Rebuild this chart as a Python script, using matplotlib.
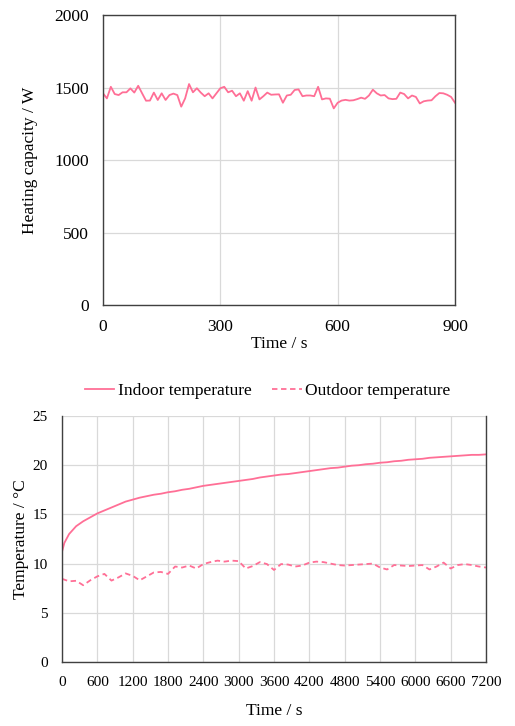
import matplotlib
matplotlib.use('Agg')
import matplotlib.pyplot as plt
import numpy as np

# Heating capacity, sampled every 10 s
heat_time = list(range(0, 901, 10))
heat_w = [1460, 1425, 1505, 1455, 1448, 1467, 1467, 1494, 1465, 1512,
          1460, 1409, 1410, 1465, 1414, 1460, 1414, 1448, 1458, 1448,
          1368, 1425, 1524, 1467, 1495, 1465, 1440, 1460, 1425, 1460,
          1495, 1505, 1467, 1478, 1440, 1460, 1409, 1475, 1409, 1500,
          1418, 1440, 1465, 1450, 1452, 1453, 1395, 1445, 1450, 1483,
          1487, 1440, 1445, 1445, 1440, 1505, 1418, 1425, 1423, 1356,
          1395, 1410, 1415, 1410, 1412, 1420, 1430, 1422, 1445, 1485,
          1460, 1445, 1448, 1425, 1420, 1422, 1465, 1455, 1425, 1445,
          1435, 1390, 1405, 1410, 1412, 1440, 1462, 1460, 1450, 1435, 1395]

# Indoor temperature
indoor_time = [0, 40] + list(range(120, 7201, 120))
indoor_c = [11.2, 12.1, 13.0, 13.8, 14.3, 14.7, 15.1, 15.4, 15.7, 16.0, 16.3,
            16.5, 16.7, 16.85, 17.0, 17.1, 17.25, 17.35, 17.5, 17.6, 17.75,
            17.9, 18.0, 18.1, 18.2, 18.3, 18.4, 18.5, 18.6, 18.75, 18.85,
            18.95, 19.05, 19.1, 19.2, 19.3, 19.4, 19.5, 19.6, 19.7, 19.75,
            19.85, 19.95, 20.0, 20.1, 20.15, 20.25, 20.3, 20.4, 20.45, 20.55,
            20.6, 20.65, 20.75, 20.8, 20.85, 20.9, 20.95, 21.0, 21.05, 21.05, 21.1]

# Outdoor temperature
outdoor_time = list(range(0, 7201, 120))
outdoor_c = [8.45, 8.2, 8.25, 7.8, 8.3, 8.7, 8.95, 8.27, 8.6, 9.0,
             8.75, 8.3, 8.7, 9.1, 9.15, 8.95, 9.7, 9.6, 9.8, 9.5,
             9.95, 10.15, 10.3, 10.2, 10.3, 10.25, 9.5, 9.75, 10.15, 9.95,
             9.35, 9.95, 9.9, 9.7, 9.8, 10.1, 10.2, 10.15, 10.0, 9.85,
             9.8, 9.85, 9.9, 9.95, 10.0, 9.6, 9.4, 9.85, 9.8, 9.75,
             9.8, 9.85, 9.4, 9.7, 10.1, 9.5, 9.85, 9.95, 9.85, 9.7, 9.6]

top_xticks = [0, 300, 600, 900]
top_yticks = [0, 500, 1000, 1500, 2000]
bot_xticks = list(range(0, 7201, 600))
bot_yticks = [0, 5, 10, 15, 20, 25]

pink = '#ff6f96'
grid_c = '#d9d9d9'

plt.rcParams['font.family'] = ['Liberation Serif', 'DejaVu Serif']
plt.rcParams['font.size'] = 12.5

fig = plt.figure(figsize=(5.15, 7.26), dpi=100)

def style(ax, top_spine):
    ax.grid(True, color=grid_c, linewidth=0.9)
    ax.set_axisbelow(True)
    ax.spines['top'].set_visible(top_spine)
    for s in ['left', 'bottom', 'right', 'top']:
        ax.spines[s].set_color('#404040')
        ax.spines[s].set_linewidth(1.0)
    ax.tick_params(length=0, pad=10, colors='black')

# top chart
ax1 = fig.add_axes([0.2, 0.5799, 0.6835, 0.3994])
ax1.plot(heat_time, heat_w, color=pink, linewidth=1.3)
ax1.set_xlim(0, 900)
ax1.set_ylim(0, 2000)
ax1.set_xticks(top_xticks)
ax1.set_yticks(top_yticks)
style(ax1, True)
ax1.set_xlabel('Time / s', labelpad=1)
ax1.set_ylabel('Heating capacity / W', labelpad=12)

# bottom chart
ax2 = fig.add_axes([0.1204, 0.0882, 0.8233, 0.3388])
ax2.plot(indoor_time, indoor_c, color=pink, linewidth=1.3, label='Indoor temperature')
ax2.plot(outdoor_time, outdoor_c, color=pink, linewidth=1.3, linestyle=(0, (3, 2)),
         label='Outdoor temperature')
ax2.set_xlim(0, 7200)
ax2.set_ylim(0, 25)
ax2.set_xticks(bot_xticks)
ax2.set_yticks(bot_yticks)
style(ax2, False)
ax2.tick_params(labelsize=11)
ax2.set_xlabel('Time / s', labelpad=10)
ax2.set_ylabel('Temperature / \u00b0C', labelpad=3)
ax2.legend(loc='center', bbox_to_anchor=(0.485, 1.1), ncol=2, frameon=False,
           handlelength=1.7, columnspacing=1.2, handletextpad=0.2)

fig.savefig('out.png', dpi=100)
